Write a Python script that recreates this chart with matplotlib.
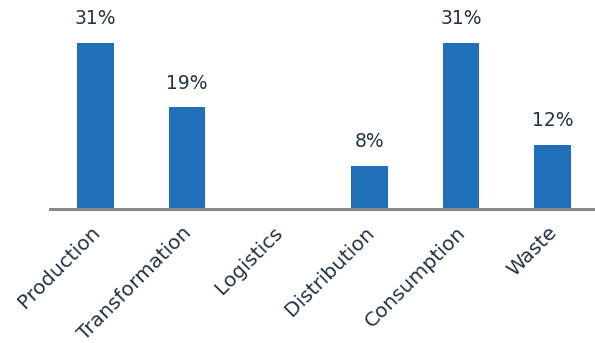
import matplotlib.pyplot as plt
from matplotlib.transforms import ScaledTranslation

stages = ["Production", "Transformation", "Logistics", "Distribution", "Consumption", "Waste"]
shares = [31, 19, 0, 8, 31, 12]
share_labels = ["31%", "19%", "", "8%", "31%", "12%"]

bar_color = "#1f70b8"
text_color = "#243447"

fig = plt.figure(figsize=(5.95, 3.43), dpi=100)
ax = fig.add_axes([0.084, 0.391, 0.921, 0.609])

x = range(len(stages))
ax.bar(x, shares, width=0.4, color=bar_color, zorder=2)

for i, (v, lab) in enumerate(zip(shares, share_labels)):
    if lab:
        ax.text(i, v + 4.5, lab, ha="center", va="center", fontsize=13.5, color=text_color)

ax.set_xlim(-0.5, 5.5)
ax.set_ylim(0, 39)
ax.set_xticks(list(x))
ax.set_xticklabels(stages, rotation=45, ha="right", rotation_mode="anchor",
                   fontsize=14.5, color=text_color)
ax.tick_params(axis="x", length=0, pad=10)
# nudge the slanted labels a little to the left
shift = ScaledTranslation(-0.05, 0, fig.dpi_scale_trans)
for t in ax.get_xticklabels():
    t.set_transform(t.get_transform() + shift)
ax.set_yticks([])

for side in ["top", "right", "left"]:
    ax.spines[side].set_visible(False)
ax.spines["bottom"].set_color("#8c8c8c")
ax.spines["bottom"].set_linewidth(2.2)
ax.spines["bottom"].set_zorder(3)

fig.savefig("out.png", dpi=100)
